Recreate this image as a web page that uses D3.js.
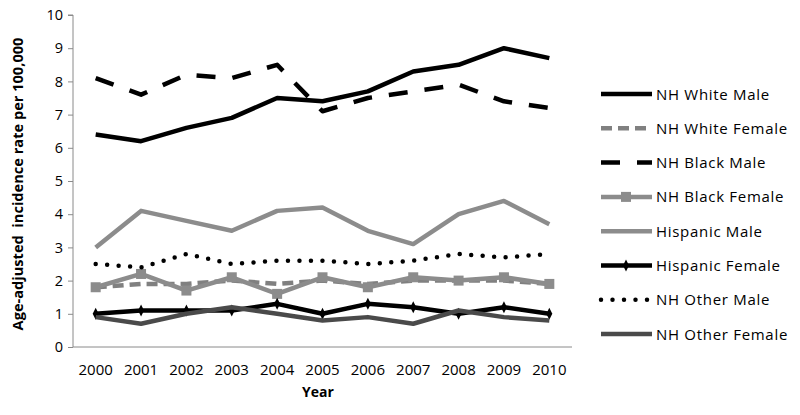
<!DOCTYPE html>
<html>
<head>
<meta charset="utf-8">
<script src="https://cdn.jsdelivr.net/npm/d3@7"></script>
<style>
  body { margin: 0; background: #fff; }
  text { font-family: "Open Sans", "Liberation Sans", sans-serif; fill: #000; }
</style>
</head>
<body>
<script>
var years = ['2000','2001','2002','2003','2004','2005','2006','2007','2008','2009','2010'];
var yTicks = [0,1,2,3,4,5,6,7,8,9,10];

var nhWhiteMale     = [6.4, 6.2, 6.6, 6.9, 7.5, 7.4, 7.7, 8.3, 8.5, 9.0, 8.7];
var nhWhiteFemale   = [1.8, 1.9, 1.9, 2.0, 1.9, 2.0, 1.9, 2.0, 2.0, 2.0, 1.9];
var nhBlackMale     = [8.1, 7.6, 8.2, 8.1, 8.5, 7.1, 7.5, 7.7, 7.9, 7.4, 7.2];
var nhBlackFemale   = [1.8, 2.2, 1.7, 2.1, 1.6, 2.1, 1.8, 2.1, 2.0, 2.1, 1.9];
var hispanicMale    = [3.0, 4.1, 3.8, 3.5, 4.1, 4.2, 3.5, 3.1, 4.0, 4.4, 3.7];
var hispanicFemale  = [1.0, 1.1, 1.1, 1.1, 1.3, 1.0, 1.3, 1.2, 1.0, 1.2, 1.0];
var nhOtherMale     = [2.5, 2.4, 2.8, 2.5, 2.6, 2.6, 2.5, 2.6, 2.8, 2.7, 2.8];
var nhOtherFemale   = [0.9, 0.7, 1.0, 1.2, 1.0, 0.8, 0.9, 0.7, 1.1, 0.9, 0.8];

var series = [
  {name:'NH White Male',    values:nhWhiteMale,    color:'#000000', dash:null,     marker:null},
  {name:'NH White Female',  values:nhWhiteFemale,  color:'#808080', dash:'11,6',   marker:null},
  {name:'NH Black Male',    values:nhBlackMale,    color:'#000000', dash:'19,17',  marker:null},
  {name:'NH Black Female',  values:nhBlackFemale,  color:'#8c8c8c', dash:null,     marker:'square'},
  {name:'Hispanic Male',    values:hispanicMale,   color:'#8c8c8c', dash:null,     marker:null},
  {name:'Hispanic Female',  values:hispanicFemale, color:'#000000', dash:null,     marker:'diamond'},
  {name:'NH Other Male',    values:nhOtherMale,    color:'#000000', dash:'0,11.5', marker:null, round:true},
  {name:'NH Other Female',  values:nhOtherFemale,  color:'#4a4a4a', dash:null,     marker:null}
];

var svg = d3.select('body').append('svg').attr('width',800).attr('height',415);

var x = d3.scaleBand().domain(years).range([73,572]);
var y = d3.scaleLinear().domain([0,10]).range([347,15]);
var cx = d => x(d) + x.bandwidth()/2;

// axes
var yAxis = svg.append('g').attr('transform','translate(73,0)')
  .call(d3.axisLeft(y).tickValues(yTicks).tickSize(5).tickPadding(5));
yAxis.selectAll('line, path').attr('stroke','#8a8a8a');
yAxis.select('.domain').attr('d','M-5,15H0V347');
yAxis.selectAll('text').attr('font-size',14.5).attr('fill','#000')
  .style('font-family','"Open Sans", sans-serif');

var xAxis = svg.append('g').attr('transform','translate(0,347)')
  .call(d3.axisBottom(x).tickSize(0).tickPadding(17));
xAxis.select('.domain').attr('stroke','#8a8a8a').attr('d','M73,0H572');
xAxis.selectAll('text').attr('font-size',15).attr('fill','#000')
  .style('font-family','"Open Sans", sans-serif');

svg.append('text').attr('x',318).attr('y',397).attr('text-anchor','middle')
  .attr('font-size',14).attr('font-weight','bold').text('Year');

svg.append('text').attr('transform','translate(23,184) rotate(-90)')
  .attr('text-anchor','middle').attr('font-size',14.6).attr('font-weight','bold')
  .style('white-space','pre').text('Age-adjusted  incidence rate per 100,000');

var line = d3.line().x((d,i) => cx(years[i])).y(d => y(d));

function drawMarker(g, type, px, py, color) {
  if (type === 'square') {
    g.append('rect').attr('x',px-5).attr('y',py-5).attr('width',10).attr('height',10).attr('fill',color);
  } else if (type === 'diamond') {
    g.append('path').attr('d','M'+px+','+(py-6)+'L'+(px+3)+','+py+'L'+px+','+(py+6)+'L'+(px-3)+','+py+'Z')
      .attr('fill',color);
  }
}

series.forEach(function(s) {
  var g = svg.append('g');
  g.append('path').attr('d', line(s.values)).attr('fill','none')
    .attr('stroke', s.color).attr('stroke-width', 4.5)
    .attr('stroke-linejoin','round')
    .attr('stroke-linecap', s.round ? 'round' : 'butt')
    .attr('stroke-dasharray', s.dash);
  if (s.marker) s.values.forEach((v,i) => drawMarker(g, s.marker, cx(years[i]), y(v), s.color));
});

// legend
var legend = svg.selectAll('g.legend').data(series).enter().append('g')
  .attr('class','legend')
  .attr('transform', (d,i) => 'translate(0,' + (94 + i*34.3) + ')');

legend.append('line').attr('x1',601).attr('x2',652).attr('y1',0).attr('y2',0)
  .attr('stroke', d => d.color).attr('stroke-width',4.5)
  .attr('stroke-linecap', d => d.round ? 'round' : 'butt')
  .attr('stroke-dasharray', d => d.dash);
legend.each(function(d) { if (d.marker) drawMarker(d3.select(this), d.marker, 626, 0, d.color); });
legend.append('text').attr('x',656).attr('y',5.5).attr('font-size',15)
  .attr('letter-spacing',0.7).text(d => d.name);
</script>
</body>
</html>
